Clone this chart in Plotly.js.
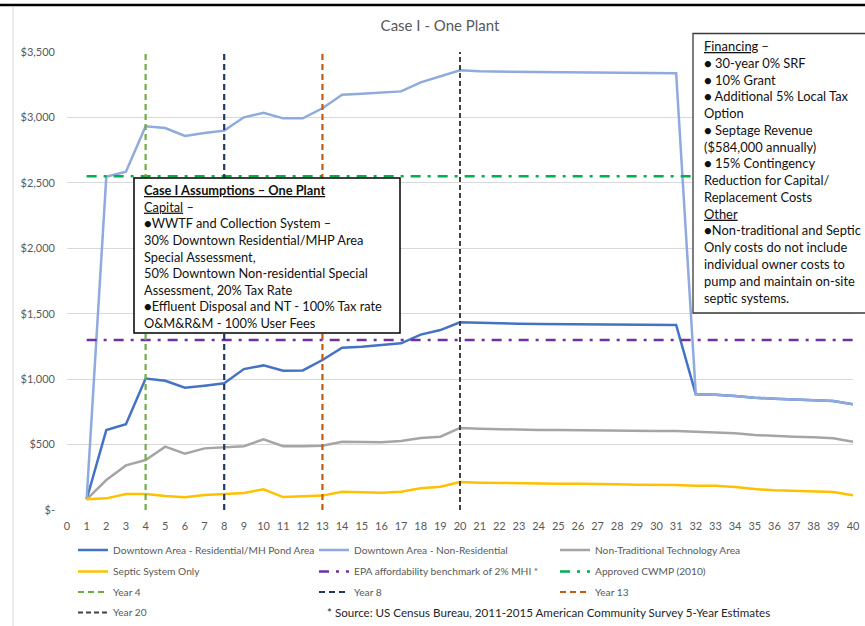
<!DOCTYPE html>
<html>
<head>
<meta charset="utf-8">
<script src="https://cdn.plot.ly/plotly-3.0.1.min.js"></script>
<style>
  html, body { margin: 0; padding: 0; background: #fff; }
  #chart { width: 865px; height: 626px; }
</style>
</head>
<body>
<div id="chart"></div>
<script>
// Years of the planning period
const years = [1,2,3,4,5,6,7,8,9,10,11,12,13,14,15,16,17,18,19,20,
               21,22,23,24,25,26,27,28,29,30,31,32,33,34,35,36,37,38,39,40];

// Annual cost per user ($) by service area
const downtownResidential = [82,611,655,1004,988,935,950,968,1077,1105,1065,1067,1146,1240,1248,1263,1274,1340,1375,1434,
                             1429,1427,1424,1422,1421,1419,1416,1415,1414,1414,1414,884,881,871,858,851,843,838,833,808];
const downtownNonResidential = [82,2547,2585,2932,2919,2858,2881,2899,3001,3036,2993,2993,3070,3174,3181,3192,3199,3268,3311,3360,
                                3352,3351,3350,3348,3347,3346,3344,3343,3341,3339,3338,884,881,871,858,851,843,838,833,808];
const nonTraditional = [82,229,341,382,484,430,471,481,487,540,487,487,491,522,517,517,527,550,560,627,
                        621,616,614,611,611,609,606,606,604,604,604,599,596,586,573,565,560,555,548,522];
const septicOnly = [82,89,122,122,107,97,115,120,130,158,99,105,110,140,135,132,140,166,178,214,
                    209,206,206,201,201,201,196,196,193,193,191,186,186,176,160,150,145,140,138,112];

// Benchmarks
const epaBenchmark = 1300;
const approvedCWMP = 2550;

// Milestone years marked with vertical lines
const milestoneYears = [4, 8, 13, 20];
const milestoneNames = ['Year 4', 'Year 8', 'Year 13', 'Year 20'];

// Axis ticks
const yTickVals = [0, 500, 1000, 1500, 2000, 2500, 3000, 3500];
const yTickText = ['$-', '$500', '$1,000', '$1,500', '$2,000', '$2,500', '$3,000', '$3,500'];
const xTickVals = [0,1,2,3,4,5,6,7,8,9,10,11,12,13,14,15,16,17,18,19,20,
                   21,22,23,24,25,26,27,28,29,30,31,32,33,34,35,36,37,38,39,40];

// ---- layout geometry (pixels) ----
const W = 865, H = 626;
const M = { l: 67, r: 12, t: 52, b: 116 };
const PW = W - M.l - M.r, PH = H - M.t - M.b;
const px = x => (x - M.l) / PW;          // pixel x -> paper
const py = y => (H - M.b - y) / PH;      // pixel y -> paper

const FONT = 'Lato, "Liberation Sans", Arial, sans-serif';
const GREY_TXT = '#595959';

const constSeries = v => years.map(() => v);

const traces = [
  { name: 'Downtown Area - Residential/MH Pond Area', y: downtownResidential,
    line: { color: '#4472C4', width: 2.5 }, legend: 'legend' },
  { name: 'Downtown Area - Non-Residential', y: downtownNonResidential,
    line: { color: '#8FAADC', width: 2.5 }, legend: 'legend' },
  { name: 'Non-Traditional Technology Area', y: nonTraditional,
    line: { color: '#A5A5A5', width: 2.5 }, legend: 'legend' },
  { name: 'Septic System Only', y: septicOnly,
    line: { color: '#FFC000', width: 2.5 }, legend: 'legend2' },
  { name: 'EPA affordability benchmark of 2% MHI *', y: constSeries(epaBenchmark),
    line: { color: '#7030A0', width: 2.5, dash: '10px,7px,3px,7px' }, legend: 'legend2' },
  { name: 'Approved CWMP (2010)', y: constSeries(approvedCWMP),
    line: { color: '#00B050', width: 2.5, dash: '10px,7px,3px,7px' }, legend: 'legend2' }
].map(t => Object.assign({ type: 'scatter', mode: 'lines', x: years, hoverinfo: 'skip' }, t));

const milestoneStyles = [
  { color: '#70AD47', dash: '6px,4px', legend: 'legend3' },
  { color: '#203864', dash: '6px,4px', legend: 'legend3' },
  { color: '#C55A11', dash: '6px,4px', legend: 'legend3' },
  { color: '#404040', dash: '5px,3px', legend: 'legend4' }
];
milestoneYears.forEach((yr, i) => {
  const s = milestoneStyles[i];
  traces.push({
    type: 'scatter', mode: 'lines', name: milestoneNames[i],
    x: [yr, yr], y: [yTickVals[0], yTickVals[yTickVals.length - 1]],
    line: { color: s.color, width: i === 3 ? 2 : 2.2, dash: s.dash },
    legend: s.legend, hoverinfo: 'skip'
  });
});

// legend rows
const rowY = [550, 571.5, 592, 612.5];
const legendFor = row => ({
  orientation: 'h', xref: 'container', yref: 'container',
  x: 73 / W, y: (H - rowY[row]) / H, xanchor: 'left', yanchor: 'middle',
  entrywidth: 196, entrywidthmode: 'pixels',
  bgcolor: 'rgba(0,0,0,0)', borderwidth: 0,
  font: { family: FONT, size: 10.2, color: GREY_TXT },
  traceorder: 'normal', itemclick: false, itemdoubleclick: false
});

const assumptionsText = [
  '<b><u>Case I Assumptions – One Plant</u></b>',
  '<u>Capital</u> –',
  '●WWTF and Collection System –',
  '30% Downtown Residential/MHP Area',
  'Special Assessment,',
  '50% Downtown Non-residential Special',
  'Assessment, 20% Tax Rate',
  '●Effluent Disposal and NT - 100% Tax rate',
  'O&M&R&M - 100% User Fees'
].join('<br>');

const financingText = [
  '<u>Financing</u> –',
  '● 30-year 0% SRF',
  '● 10% Grant',
  '● Additional 5% Local Tax',
  'Option',
  '● Septage Revenue',
  '($584,000 annually)',
  '● 15% Contingency',
  'Reduction for Capital/',
  'Replacement Costs',
  '<u>Other</u>',
  '●Non-traditional and Septic',
  'Only costs do not include',
  'individual owner costs to',
  'pump and maintain on-site',
  'septic systems.'
].join('<br>');

const layout = {
  width: W, height: H,
  margin: M,
  paper_bgcolor: '#fff', plot_bgcolor: '#fff',
  font: { family: FONT, color: GREY_TXT },
  showlegend: true,
  title: {
    text: 'Case I - One Plant',
    font: { family: FONT, size: 15, color: GREY_TXT },
    xref: 'container', yref: 'container',
    x: 440 / W, y: (H - 26) / H, xanchor: 'center', yanchor: 'middle'
  },
  xaxis: {
    range: [0, 40], tickvals: xTickVals, ticktext: xTickVals.map(String),
    showgrid: false, zeroline: false, showline: false,
    ticks: '', ticklabelstandoff: 8,
    tickfont: { family: FONT, size: 11, color: GREY_TXT },
    fixedrange: true
  },
  yaxis: {
    range: [0, 3500], tickvals: yTickVals, ticktext: yTickText,
    showgrid: true, gridcolor: '#D9D9D9', gridwidth: 1,
    zeroline: false, showline: false,
    ticks: '', ticklabelstandoff: 11,
    tickfont: { family: FONT, size: 11, color: GREY_TXT },
    fixedrange: true
  },
  legend: legendFor(0), legend2: legendFor(1), legend3: legendFor(2), legend4: legendFor(3),
  shapes: [
    // frame lines
    { type: 'line', xref: 'paper', yref: 'paper', x0: px(0), x1: px(W), y0: py(5), y1: py(5),
      line: { color: '#000', width: 2.5 }, layer: 'above' },
    { type: 'line', xref: 'paper', yref: 'paper', x0: px(13), x1: px(13), y0: py(7), y1: py(H),
      line: { color: '#D9D9D9', width: 1 }, layer: 'above' },
    // note boxes
    { type: 'rect', xref: 'paper', yref: 'paper', x0: px(134), x1: px(400), y0: py(178), y1: py(333),
      fillcolor: '#fff', line: { color: '#000', width: 1.5 }, layer: 'above' },
    { type: 'rect', xref: 'paper', yref: 'paper', x0: px(693), x1: px(870), y0: py(33.5), y1: py(313),
      fillcolor: '#fff', line: { color: '#3a3a3a', width: 1.3 }, layer: 'above' }
  ],
  annotations: [
    { xref: 'paper', yref: 'paper', x: px(142), y: py(180), xanchor: 'left', yanchor: 'top',
      align: 'left', showarrow: false, text: assumptionsText,
      font: { family: FONT, size: 12.8, color: '#111' } },
    { xref: 'paper', yref: 'paper', x: px(702), y: py(36), xanchor: 'left', yanchor: 'top',
      align: 'left', showarrow: false, text: financingText,
      font: { family: FONT, size: 12.9, color: '#111' } },
    { xref: 'paper', yref: 'paper', x: px(325), y: py(612.5), xanchor: 'left', yanchor: 'middle',
      align: 'left', showarrow: false,
      text: '* Source: US Census Bureau, 2011-2015 American Community Survey 5-Year Estimates',
      font: { family: FONT, size: 11.6, color: '#262626' } }
  ]
};

Plotly.newPlot('chart', traces, layout, { staticPlot: true, displayModeBar: false });
</script>
</body>
</html>
